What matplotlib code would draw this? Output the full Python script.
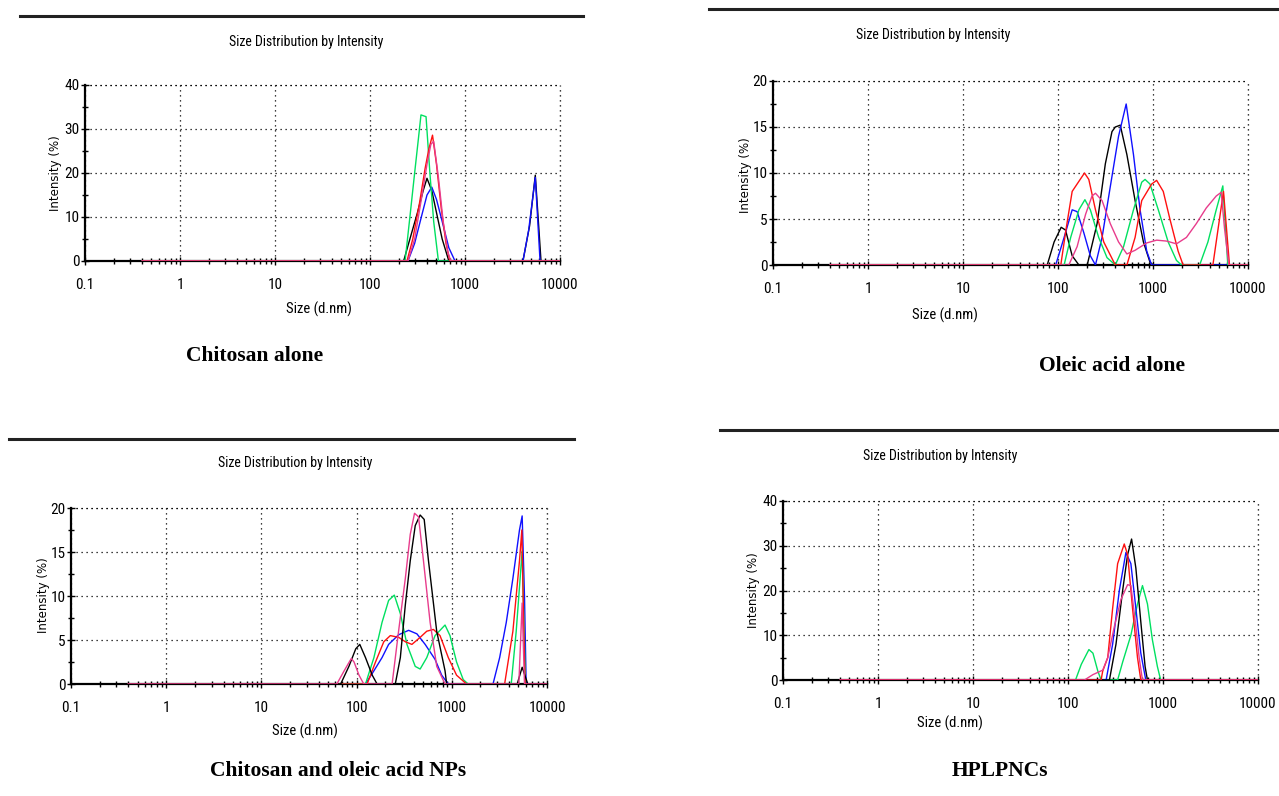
import matplotlib
matplotlib.use("Agg")
import matplotlib.pyplot as plt
import matplotlib.ticker as mticker
from matplotlib import font_manager
from matplotlib.lines import Line2D

# ── Data: sizes (d.nm) and intensities (%) ─────────────────────────────────
# colours used by the Malvern software
RED = "#ff1010"
GREEN = "#00e060"
BLUE = "#1010ff"
BLACK = "#000000"
PINK = "#e83c8c"

# Chitosan alone
p1_red_x = [245, 282, 331, 380, 417, 455, 501, 562, 631, 692]
p1_red_y = [0, 5, 13, 21, 25.5, 28.6, 22, 12, 4, 0]
p1_green_x = [234, 263, 295, 324, 344, 389, 427, 468, 525]
p1_green_y = [0, 10, 20, 28, 33.2, 32.8, 20, 9, 0]
p1_blue_x = [251, 295, 347, 398, 447, 501, 575, 676, 785, 4074, 4677, 5495, 6166]
p1_blue_y = [0, 4, 10, 15, 16.8, 14, 9, 3, 0, 0, 7, 19, 0]
p1_black_x = [226, 263, 316, 363, 398, 447, 501, 575, 676, 4074, 4786, 5495, 6310]
p1_black_y = [0, 5, 11, 16, 18.8, 16, 11, 5, 0, 0, 8, 19.5, 0]
p1_pink_x = [251, 295, 347, 398, 437, 468, 525, 589, 661, 708]
p1_pink_y = [0, 5, 14, 22, 26.5, 27.2, 19, 9, 2, 0]

# Oleic acid alone
p2_red_x = [107, 122, 141, 190, 211, 248, 303, 401, 531, 648, 761, 968, 1092,
            1282, 1506, 1840, 2075, 4271, 5012, 5521, 6380]
p2_red_y = [0, 4, 8, 10, 9.3, 6, 2.5, 0, 0, 3, 7, 8.8, 9.2, 8, 5, 1.5, 0,
            0, 5, 8, 0]
p2_green_x = [116, 136, 166, 192, 219, 268, 328, 401, 490, 623, 761, 825, 930,
              1137, 1445, 1766, 1995, 3097, 3784, 4630, 5432, 5798, 6128]
p2_green_y = [0, 3, 6, 7.1, 6, 3, 0.8, 0, 2, 6, 9, 9.3, 8.8, 6, 2.5, 0.5, 0,
              0, 2.5, 6, 8.6, 4, 0]
p2_blue_x = [94.5, 116, 141, 159, 187, 219, 248, 291, 355, 434, 522, 623, 731,
             859, 968]
p2_blue_y = [0, 3, 6.0, 5.8, 3.5, 1, 0, 3, 8.5, 14, 17.5, 12, 6, 1.5, 0]
p2_black_x = [77, 91, 108, 120, 141, 166, 203, 258, 315, 370, 401, 452, 531,
              648, 793, 930, 1007]
p2_black_y = [0, 2.5, 4.1, 3.8, 1, 0, 0, 4.5, 11, 14.5, 15, 15.2, 12, 7, 2.5,
              0.3, 0]
p2_pink_x = [130, 159, 195, 228, 248, 291, 355, 434, 531, 648, 859, 1092, 1390,
             1766, 2249, 2858, 3637, 4630, 5223, 5658, 6282]
p2_pink_y = [0, 2, 5.5, 7.5, 7.8, 7, 4.5, 2.5, 1.2, 1.6, 2.4, 2.7, 2.6, 2.3,
             3, 4.5, 6.2, 7.5, 7.9, 4, 0]

# Chitosan and oleic acid NPs
p3_red_x = [129, 158, 193, 226, 277, 325, 381, 465, 546, 641, 752, 919, 1122,
            1428, 3588, 4383, 5140, 5441, 5708, 5890]
p3_red_y = [0, 2.5, 4.8, 5.5, 5.3, 4.8, 4.5, 5.3, 6, 6.2, 5.5, 3, 1, 0,
            0, 6, 14, 17.5, 6, 0]
p3_green_x = [124, 152, 185, 217, 249, 288, 338, 413, 465, 546, 667, 849, 957,
              1122, 1318, 1486, 4208, 4749, 5483, 5754, 5938]
p3_green_y = [0, 3, 7, 9.5, 10.1, 8, 4.5, 2, 1.7, 3, 5.5, 6.7, 5.5, 2.5, 0.5,
              0, 0, 6, 15.1, 6, 0]
p3_blue_x = [124, 152, 185, 217, 277, 352, 430, 525, 667, 783, 919, 2710, 3182,
             3734, 4383, 5140, 5483, 5800, 6039]
p3_blue_y = [0, 1.5, 3, 4.5, 5.6, 6.1, 5.7, 4.5, 2.8, 1, 0, 0, 3, 7, 12, 17.5,
             19.1, 10, 0]
p3_black_x = [68, 83, 98, 108, 124, 146, 164, 255, 288, 325, 366, 413, 465,
              513, 569, 694, 849, 883, 4864, 5483, 6285]
p3_black_y = [0, 2, 4, 4.5, 3, 1, 0, 0, 3, 9, 14, 18, 19.2, 18.7, 14, 6, 1.5,
              0, 0, 1.9, 0]
p3_pink_x = [62, 74, 88, 94, 106, 119, 236, 276, 325, 366, 406, 447, 504, 592,
             695, 849, 5058, 5483, 5800]
p3_pink_y = [0, 1.5, 2.9, 2.5, 1, 0, 0, 6, 12, 17, 19.4, 19, 14, 7, 2, 0,
             0, 9.2, 0]

# HPLPNCs
p4_red_x = [223, 232, 262, 295, 333, 391, 424, 478, 539, 584]
p4_red_y = [0, 2, 5, 16, 26, 30.4, 28, 16, 5, 0]
p4_green_x = [120, 138, 166, 183, 206, 223, 333, 376, 459, 539, 608, 686, 773,
              873, 945]
p4_green_y = [0, 3.5, 6.8, 6, 2, 0, 0, 4, 10, 17, 21.1, 17, 9, 3, 0]
p4_blue_x = [252, 295, 347, 407, 459, 518, 584, 659]
p4_blue_y = [0, 8, 20, 28.5, 26, 16, 6, 0]
p4_black_x = [273, 320, 376, 424, 467, 518, 584, 648, 686]
p4_black_y = [0, 8, 20, 28, 31.5, 25, 13, 3, 0]
p4_pink_x = [149, 183, 232, 262, 308, 361, 424, 459, 518, 561, 608]
p4_pink_y = [0, 1.2, 2.2, 5, 12, 18, 21.3, 21.1, 12, 5, 0]

X_MIN, X_MAX = 0.1, 10000
BASE_START, BASE_END = 0.4, 10000   # curves are drawn from 0.4 nm to 10 µm

panels = [
    dict(box=(85, 560, 85, 261), ymax=40, ymaj=10, ymin=5,
         rule=(20, 583, 16), title=(306, 42), xlab=(319, 309), ylab=(56, 173),
         caption="Chitosan alone", cap=(255, 356),
         curves=[(p1_black_x, p1_black_y, BLACK), (p1_blue_x, p1_blue_y, BLUE),
                 (p1_green_x, p1_green_y, GREEN), (p1_red_x, p1_red_y, RED),
                 (p1_pink_x, p1_pink_y, PINK)]),
    dict(box=(773, 1248, 81, 265), ymax=20, ymaj=5, ymin=2.5,
         rule=(709, 1279, 9), title=(933, 35), xlab=(945, 315), ylab=(745, 175),
         caption="Oleic acid alone", cap=(1112, 366),
         curves=[(p2_black_x, p2_black_y, BLACK), (p2_blue_x, p2_blue_y, BLUE),
                 (p2_green_x, p2_green_y, GREEN), (p2_red_x, p2_red_y, RED),
                 (p2_pink_x, p2_pink_y, PINK)]),
    dict(box=(71, 547, 508, 684), ymax=20, ymaj=5, ymin=2.5,
         rule=(9, 574, 439), title=(295, 463), xlab=(305, 731), ylab=(43, 595),
         caption="Chitosan and oleic acid NPs", cap=(338, 771),
         curves=[(p3_blue_x, p3_blue_y, BLUE), (p3_green_x, p3_green_y, GREEN),
                 (p3_red_x, p3_red_y, RED), (p3_black_x, p3_black_y, BLACK),
                 (p3_pink_x, p3_pink_y, PINK)]),
    dict(box=(783, 1258, 501, 680), ymax=40, ymaj=10, ymin=5,
         rule=(720, 1279, 430), title=(940, 456), xlab=(950, 723), ylab=(753, 590),
         caption="HPLPNCs", cap=(1000, 771),
         curves=[(p4_green_x, p4_green_y, GREEN), (p4_blue_x, p4_blue_y, BLUE),
                 (p4_black_x, p4_black_y, BLACK), (p4_red_x, p4_red_y, RED),
                 (p4_pink_x, p4_pink_y, PINK)]),
]

# pick a narrow sans for the instrument-style labels
available = set(font_manager.get_font_names())
NARROW = "Liberation Sans"
narrow_size = 9
for cand in ["Liberation Sans Narrow", "DejaVu Sans Condensed", "Roboto Condensed",
             "Open Sans Condensed"]:
    if cand in available:
        NARROW = cand
        narrow_size = 10
        break

W, H = 1279, 796
fig = plt.figure(figsize=(W / 100, H / 100), dpi=100)
fig.patch.set_facecolor("white")

DOT = (0, (1, 3))


def fx(px):
    return px / W


def fy(py):
    return 1 - py / H


for p in panels:
    l, r, t, b = p["box"]
    ax = fig.add_axes([fx(l), fy(b), fx(r) - fx(l), fy(t) - fy(b)])
    ax.set_xscale("log")
    ax.set_xlim(X_MIN, X_MAX)
    ax.set_ylim(0, p["ymax"])

    for xs, ys, col in p["curves"]:
        ax.plot([BASE_START] + xs + [BASE_END], [0] + ys + [0],
                color=col, lw=1.0, zorder=3)

    # dotted grid, incl. the top/right border
    ax.grid(True, which="major", color="black", linestyle=DOT, lw=0.9)
    for s in ("top", "right"):
        ax.spines[s].set_visible(False)
    ax.axhline(p["ymax"], color="black", linestyle=DOT, lw=0.9, clip_on=False)
    ax.axvline(X_MAX, color="black", linestyle=DOT, lw=0.9, clip_on=False)
    for s in ("left", "bottom"):
        ax.spines[s].set_linewidth(1.6)
        ax.spines[s].set_zorder(2)

    ax.xaxis.set_major_locator(mticker.LogLocator(base=10, numticks=10))
    ax.xaxis.set_minor_locator(mticker.LogLocator(base=10, subs=range(2, 10), numticks=20))
    ax.xaxis.set_major_formatter(mticker.FuncFormatter(lambda v, _: f"{v:g}"))
    ax.xaxis.set_minor_formatter(mticker.NullFormatter())
    ax.yaxis.set_major_locator(mticker.MultipleLocator(p["ymaj"]))
    ax.yaxis.set_minor_locator(mticker.MultipleLocator(p["ymin"]))
    ax.tick_params(which="both", direction="inout", color="black", width=1.0)
    ax.tick_params(which="major", length=6, labelsize=narrow_size + 1)
    ax.tick_params(which="minor", length=5)
    ax.tick_params(axis="x", pad=9)
    ax.tick_params(axis="y", pad=1)
    for lab in ax.get_xticklabels() + ax.get_yticklabels():
        lab.set_family(NARROW)

    # horizontal rule above each panel
    x0, x1, yr = p["rule"]
    fig.add_artist(Line2D([fx(x0), fx(x1)], [fy(yr), fy(yr)], color="#222222", lw=2.2))

    fig.text(fx(p["title"][0]), fy(p["title"][1]), "Size Distribution by Intensity",
             family=NARROW, fontsize=narrow_size, ha="center", va="center")
    fig.text(fx(p["xlab"][0]), fy(p["xlab"][1]), "Size (d.nm)",
             family=NARROW, fontsize=narrow_size + 0.5, ha="center", va="center")
    fig.text(fx(p["ylab"][0]), fy(p["ylab"][1]), "Intensity (%)",
             family="DejaVu Sans", fontsize=8.5, rotation=90, ha="center", va="center")
    fig.text(fx(p["cap"][0]), fy(p["cap"][1]), p["caption"],
             family=["Liberation Serif", "DejaVu Serif"], fontweight="bold",
             fontsize=15.5, ha="center", va="center")

fig.savefig("out.png", dpi=100, facecolor="white")
